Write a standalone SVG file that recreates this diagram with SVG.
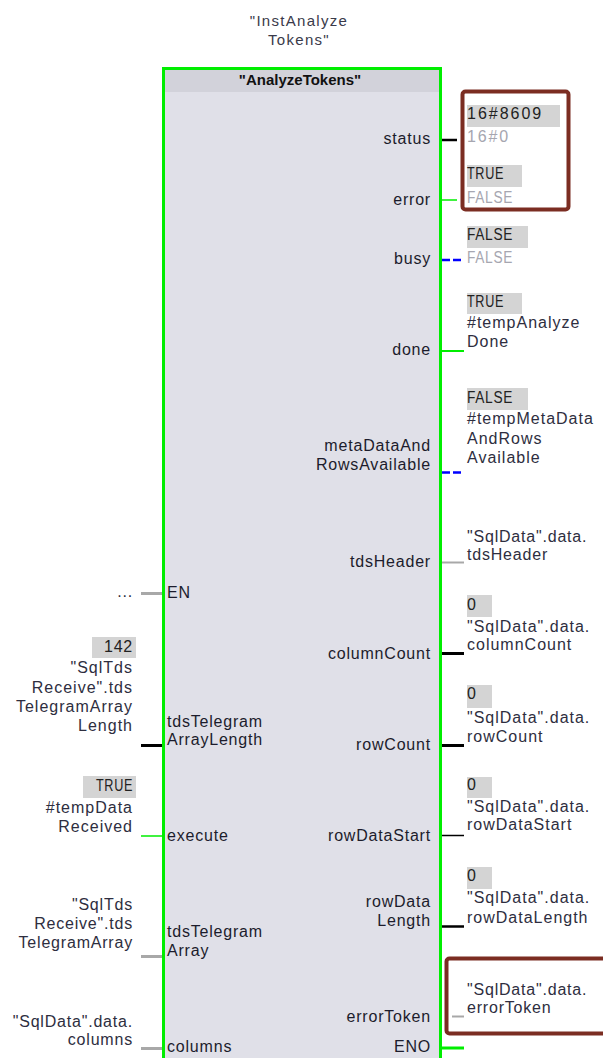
<svg xmlns="http://www.w3.org/2000/svg" width="603" height="1058" viewBox="0 0 603 1058">
  <defs>
    <style>
      text { font-family: "Liberation Sans", Arial, sans-serif; font-size: 16px; letter-spacing: 0.8px; }
      .ttl { fill: #3a3a4a; font-size: 15px; letter-spacing: 1.3px; text-anchor: middle; }
      .hdr { fill: #111; font-size: 15px; font-weight: bold; letter-spacing: 0; text-anchor: middle; }
      .pin { fill: #1c1c2c; }
      .end { text-anchor: end; }
      .var { fill: #2e2e40; letter-spacing: 1px; }
      .mon { fill: #222; }
      .old { fill: #a6a6b0; }
      .mbg { fill: #d4d4d4; }
      .sepR { stroke: url(#fadeL); stroke-width: 1.5; }
      .sepL { stroke: url(#fadeR); stroke-width: 1.5; }
      .blk { stroke: #000; }
      .grn { stroke: #00ee00; }
      .gry { stroke: #a8a8a8; }
      .blu { stroke: #0000ff; stroke-width: 2.5; stroke-dasharray: 8 3; }
      .hl { fill: none; stroke: #7b2d22; stroke-width: 4; }
    </style>
    <linearGradient id="fadeL" x1="0" y1="0" x2="1" y2="0">
      <stop offset="0" stop-color="#ffffff" stop-opacity="0"/>
      <stop offset="0.3" stop-color="#ffffff" stop-opacity="0.9"/>
      <stop offset="1" stop-color="#ffffff" stop-opacity="0.9"/>
    </linearGradient>
    <linearGradient id="fadeR" x1="0" y1="0" x2="1" y2="0">
      <stop offset="0" stop-color="#ffffff" stop-opacity="0.9"/>
      <stop offset="0.7" stop-color="#ffffff" stop-opacity="0.9"/>
      <stop offset="1" stop-color="#ffffff" stop-opacity="0"/>
    </linearGradient>
  </defs>

  <rect x="0" y="0" width="603" height="1058" fill="#ffffff"/>

  <!-- instance data block name -->
  <g id="instance-db">
    <text class="ttl" x="299" y="26">"InstAnalyze</text>
    <text class="ttl" x="299" y="45">Tokens"</text>
  </g>

  <!-- function block body -->
  <g id="fb-analyze-tokens">
    <rect x="163.5" y="68.5" width="277" height="1000" fill="#e0e0e8" stroke="#00ee00" stroke-width="3"/>
    <rect x="165" y="70" width="274" height="22" fill="#d2d2da"/>
    <text class="hdr" x="300" y="85">"AnalyzeTokens"</text>

    <!-- row separators -->
    <g id="separators">
      <line class="sepR" x1="383" y1="156" x2="437" y2="156"/>
      <line class="sepR" x1="390" y1="216" x2="437" y2="216"/>
      <line class="sepR" x1="393" y1="268" x2="437" y2="268"/>
      <line class="sepR" x1="385" y1="367" x2="437" y2="367"/>
      <line class="sepR" x1="303" y1="488" x2="437" y2="488"/>
      <line class="sepR" x1="343" y1="580" x2="437" y2="580"/>
      <line class="sepR" x1="325" y1="670" x2="437" y2="670"/>
      <line class="sepR" x1="351" y1="760" x2="437" y2="760"/>
      <line class="sepR" x1="328" y1="852" x2="437" y2="852"/>
      <line class="sepR" x1="368" y1="942" x2="437" y2="942"/>
      <line class="sepR" x1="343" y1="1033" x2="437" y2="1033"/>
      <line class="sepL" x1="167" y1="610" x2="200" y2="610"/>
      <line class="sepL" x1="167" y1="761" x2="280" y2="761"/>
      <line class="sepL" x1="167" y1="852" x2="245" y2="852"/>
      <line class="sepL" x1="167" y1="972" x2="280" y2="972"/>
    </g>

    <!-- input pins -->
    <g id="pins-in" class="pin">
      <text x="167" y="598">EN</text>
      <text x="167" y="727">tdsTelegram</text>
      <text x="167" y="745">ArrayLength</text>
      <text x="167" y="841">execute</text>
      <text x="167" y="937">tdsTelegram</text>
      <text x="167" y="956">Array</text>
      <text x="167" y="1052">columns</text>
    </g>

    <!-- output pins -->
    <g id="pins-out" class="pin end">
      <text x="431" y="144">status</text>
      <text x="431" y="205">error</text>
      <text x="431" y="264">busy</text>
      <text x="431" y="355">done</text>
      <text x="431" y="451">metaDataAnd</text>
      <text x="431" y="470">RowsAvailable</text>
      <text x="431" y="567">tdsHeader</text>
      <text x="431" y="659">columnCount</text>
      <text x="431" y="750">rowCount</text>
      <text x="431" y="841">rowDataStart</text>
      <text x="431" y="907">rowData</text>
      <text x="431" y="926">Length</text>
      <text x="431" y="1022">errorToken</text>
      <text x="431" y="1052">ENO</text>
    </g>
  </g>

  <!-- wire stubs to the pins -->
  <g id="connectors">
    <line class="gry" stroke-width="3" x1="141" y1="593.5" x2="162" y2="593.5"/>
    <line class="blk" stroke-width="3" x1="141" y1="745.5" x2="162" y2="745.5"/>
    <line class="grn" stroke-width="1.5" x1="141" y1="836" x2="162" y2="836"/>
    <line class="gry" stroke-width="3" x1="141" y1="956.5" x2="162" y2="956.5"/>
    <line class="gry" stroke-width="3" x1="141" y1="1048.5" x2="162" y2="1048.5"/>

    <line class="blk" stroke-width="2.5" x1="442" y1="140" x2="457" y2="140"/>
    <line class="grn" stroke-width="1.5" x1="442" y1="200" x2="457" y2="200"/>
    <line class="blu" x1="442" y1="260" x2="464" y2="260"/>
    <line class="grn" stroke-width="2" x1="442" y1="351" x2="464" y2="351"/>
    <line class="blu" x1="442" y1="472.5" x2="464" y2="472.5"/>
    <line class="gry" stroke-width="2" x1="442" y1="562.5" x2="464" y2="562.5"/>
    <line class="blk" stroke-width="3" x1="442" y1="653.5" x2="464" y2="653.5"/>
    <line class="blk" stroke-width="3" x1="442" y1="745.5" x2="464" y2="745.5"/>
    <line class="blk" stroke-width="1.5" x1="442" y1="835.5" x2="464" y2="835.5"/>
    <line class="blk" stroke-width="2.5" x1="442" y1="926.5" x2="464" y2="926.5"/>
    <line class="gry" stroke-width="2" x1="452" y1="1016.5" x2="464" y2="1016.5"/>
    <line class="grn" stroke-width="3" x1="442" y1="1048" x2="464" y2="1048"/>
  </g>

  <!-- input operands -->
  <g id="op-en" class="var end">
    <text x="133" y="597">...</text>
  </g>
  <g id="op-tdsTelegramArrayLength" class="end">
    <rect class="mbg" x="92" y="637" width="44" height="21"/>
    <text class="mon" x="133" y="652" textLength="29" lengthAdjust="spacing">142</text>
    <text class="var" x="133" y="673">"SqlTds</text>
    <text class="var" x="133" y="693">Receive".tds</text>
    <text class="var" x="133" y="712">TelegramArray</text>
    <text class="var" x="133" y="731">Length</text>
  </g>
  <g id="op-execute" class="end">
    <rect class="mbg" x="83" y="776" width="53" height="22"/>
    <text class="mon" x="133" y="791" textLength="37" lengthAdjust="spacingAndGlyphs">TRUE</text>
    <text class="var" x="133" y="813">#tempData</text>
    <text class="var" x="133" y="832">Received</text>
  </g>
  <g id="op-tdsTelegramArray" class="var end">
    <text x="133" y="910">"SqlTds</text>
    <text x="133" y="929">Receive".tds</text>
    <text x="133" y="948">TelegramArray</text>
  </g>
  <g id="op-columns" class="var end">
    <text x="133" y="1027">"SqlData".data.</text>
    <text x="133" y="1045">columns</text>
  </g>

  <!-- output operands -->
  <g id="op-status">
    <rect class="mbg" x="467" y="105" width="93" height="22"/>
    <text class="mon" x="467" y="119" textLength="75" lengthAdjust="spacing">16#8609</text>
    <text class="old" x="467" y="142" textLength="42" lengthAdjust="spacing">16#0</text>
  </g>
  <g id="op-error">
    <rect class="mbg" x="467" y="165" width="55" height="22"/>
    <text class="mon" x="467" y="179" textLength="37" lengthAdjust="spacingAndGlyphs">TRUE</text>
    <text class="old" x="467" y="203" textLength="46" lengthAdjust="spacingAndGlyphs">FALSE</text>
  </g>
  <g id="op-busy">
    <rect class="mbg" x="467" y="226" width="61" height="22"/>
    <text class="mon" x="467" y="240" textLength="46" lengthAdjust="spacingAndGlyphs">FALSE</text>
    <text class="old" x="467" y="263" textLength="46" lengthAdjust="spacingAndGlyphs">FALSE</text>
  </g>
  <g id="op-done">
    <rect class="mbg" x="467" y="293" width="55" height="21"/>
    <text class="mon" x="467" y="307" textLength="37" lengthAdjust="spacingAndGlyphs">TRUE</text>
    <text class="var" x="467" y="328">#tempAnalyze</text>
    <text class="var" x="467" y="347">Done</text>
  </g>
  <g id="op-metaDataAndRowsAvailable">
    <rect class="mbg" x="467" y="388" width="61" height="22"/>
    <text class="mon" x="467" y="403" textLength="46" lengthAdjust="spacingAndGlyphs">FALSE</text>
    <text class="var" x="467" y="424">#tempMetaData</text>
    <text class="var" x="467" y="444">AndRows</text>
    <text class="var" x="467" y="463">Available</text>
  </g>
  <g id="op-tdsHeader" class="var">
    <text x="467" y="542">"SqlData".data.</text>
    <text x="467" y="560">tdsHeader</text>
  </g>
  <g id="op-columnCount">
    <rect class="mbg" x="467" y="595" width="25" height="22"/>
    <text class="mon" x="467" y="610">0</text>
    <text class="var" x="467" y="632">"SqlData".data.</text>
    <text class="var" x="467" y="650">columnCount</text>
  </g>
  <g id="op-rowCount">
    <rect class="mbg" x="467" y="685" width="25" height="23"/>
    <text class="mon" x="467" y="699">0</text>
    <text class="var" x="467" y="723">"SqlData".data.</text>
    <text class="var" x="467" y="742">rowCount</text>
  </g>
  <g id="op-rowDataStart">
    <rect class="mbg" x="467" y="777" width="25" height="21"/>
    <text class="mon" x="467" y="790">0</text>
    <text class="var" x="467" y="812">"SqlData".data.</text>
    <text class="var" x="467" y="830">rowDataStart</text>
  </g>
  <g id="op-rowDataLength">
    <rect class="mbg" x="467" y="867" width="25" height="22"/>
    <text class="mon" x="467" y="881">0</text>
    <text class="var" x="467" y="903">"SqlData".data.</text>
    <text class="var" x="467" y="923">rowDataLength</text>
  </g>
  <g id="op-errorToken" class="var">
    <text x="467" y="995">"SqlData".data.</text>
    <text x="467" y="1013">errorToken</text>
  </g>

  <!-- highlight frames -->
  <g id="highlights">
    <rect class="hl" x="462.5" y="91.5" width="106" height="118" rx="3"/>
    <rect class="hl" x="446.5" y="958.5" width="170" height="75" rx="3"/>
  </g>
</svg>
